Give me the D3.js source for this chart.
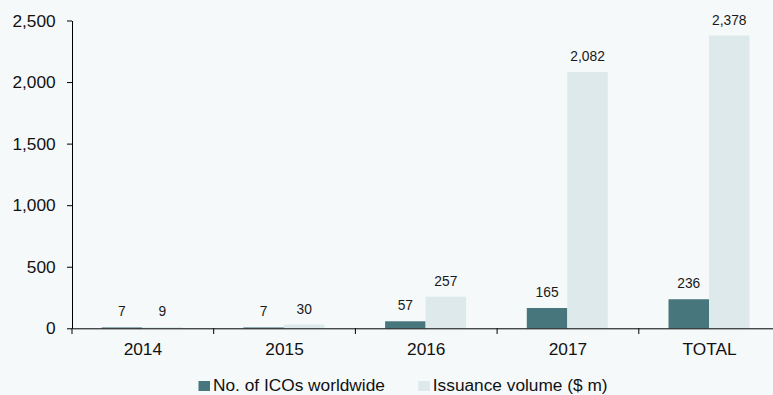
<!DOCTYPE html>
<html><head><meta charset="utf-8">
<script src="https://cdn.jsdelivr.net/npm/d3@7"></script>
<style>
html,body{margin:0;padding:0;background:#f5f9fa;}
svg{display:block;font-family:"Liberation Sans",Arial,sans-serif;}
</style></head><body>
<svg id="c" width="773" height="395"></svg>
<script>
const categories = ["2014","2015","2016","2017","TOTAL"];
const icoCount = [7,7,57,165,236];
const issuanceVolume = [9,30,257,2082,2378];
const seriesNames = ["No. of ICOs worldwide","Issuance volume ($ m)"];
const yTicks = [0,500,1000,1500,2000,2500];
const colors = ["#47777c","#dde9ea"];

const svg = d3.select("#c");
svg.append("rect").attr("width",773).attr("height",395).attr("fill","#f5f9fa");

const x0 = d3.scaleBand().domain(categories).range([72,780.5]).paddingInner(0).paddingOuter(0);
const x1 = d3.scaleBand().domain([0,1]).range([29.7,110.7]);
const y = d3.scaleLinear().domain([0,2500]).range([328.3,20.5]);

const fmt = d3.format(",");
const data = categories.map((c,i)=>({c, vals:[icoCount[i], issuanceVolume[i]]}));

const g = svg.append("g");
data.forEach(d=>{
  d.vals.forEach((v,k)=>{
    const bx = x0(d.c)+x1(k);
    g.append("rect").attr("x",bx).attr("width",x1.bandwidth())
      .attr("y",y(v)).attr("height",y(0)-y(v)).attr("fill",colors[k]);
    g.append("text").attr("x",bx+x1.bandwidth()/2).attr("y",y(v)-11)
      .attr("text-anchor","middle").attr("font-size",13.8).attr("fill","#1a1a1a").text(fmt(v));
  });
});

const FF = "Liberation Sans, Arial, sans-serif";
// y axis
const ya = svg.append("g").attr("transform","translate(72,0)")
  .call(d3.axisLeft(y).tickValues(yTicks).tickFormat(fmt).tickSize(5).tickSizeOuter(0).tickPadding(11.3));
ya.select(".domain").attr("stroke","#000");
ya.selectAll("line").attr("stroke","#000");
ya.selectAll("text").attr("font-size",17.3).attr("fill","#111").attr("font-family",FF);

// x axis
const xa = svg.append("g").attr("transform","translate(0,328.3)")
  .call(d3.axisBottom(x0).tickSize(0).tickPadding(14.6));
xa.select(".domain").attr("stroke","#000");
xa.selectAll("text").attr("font-size",17.3).attr("fill","#111").attr("font-family",FF);
// boundary ticks
const bounds = categories.map(c=>x0(c)).concat([x0(categories[categories.length-1])+x0.bandwidth()]);
svg.append("g").selectAll("line").data(bounds).join("line")
  .attr("x1",d=>d).attr("x2",d=>d).attr("y1",328.3).attr("y2",334).attr("stroke","#000");

// legend
const leg = svg.append("g");
const legX = [198.5,418.3];
seriesNames.forEach((n,k)=>{
  leg.append("rect").attr("x",legX[k]).attr("y",381).attr("width",11.5).attr("height",10).attr("fill",colors[k]);
  leg.append("text").attr("x",legX[k]+14.5).attr("y",391.3).attr("font-size",17.3).attr("fill","#111").text(n);
});
</script>
</body></html>
